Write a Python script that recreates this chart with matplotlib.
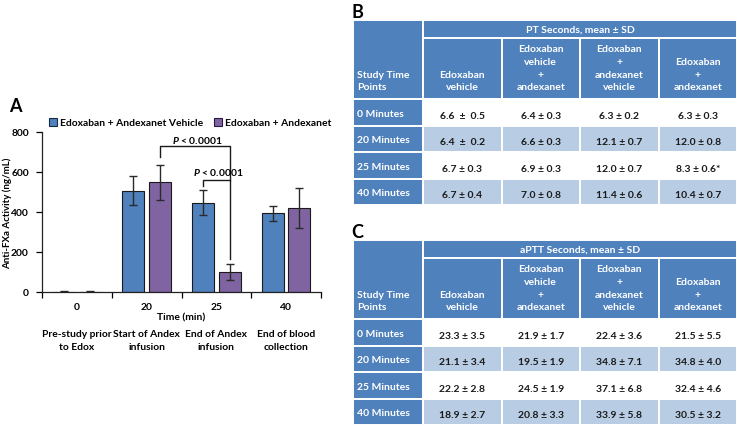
import matplotlib
matplotlib.use("Agg")
import matplotlib.pyplot as plt
from matplotlib.patches import Rectangle
import numpy as np

plt.rcParams['font.family'] = ['Lato', 'DejaVu Sans']
plt.rcParams['font.weight'] = 'bold'
plt.rcParams['mathtext.fontset'] = 'custom'
plt.rcParams['mathtext.it'] = 'Lato:italic:bold'
plt.rcParams['mathtext.rm'] = 'Lato:bold'

# ---------------- data: panel A ----------------
time_min = ["0", "20", "25", "40"]
time_desc = ["Pre-study prior\nto Edox", "Start of Andex\ninfusion",
             "End of Andex\ninfusion", "End of blood\ncollection"]
series_names = ["Edoxaban + Andexanet Vehicle", "Edoxaban + Andexanet"]
vehicle_mean = [2, 507, 447, 393]
vehicle_sd = [1, 73, 64, 39]
andex_mean = [2, 548, 100, 418]
andex_sd = [1, 86, 41, 100]
p_label = r"$P$ < 0.0001"

# ---------------- data: panels B and C ----------------
time_points = ["0 Minutes", "20 Minutes", "25 Minutes", "40 Minutes"]
first_header = "Study Time\nPoints"
group_headers = ["Edoxaban\nvehicle", "Edoxaban\nvehicle\n+\nandexanet",
                 "Edoxaban\n+\nandexanet\nvehicle", "Edoxaban\n+\nandexanet"]
pt_title = "PT Seconds, mean ± SD"
pt_values = [
    ["6.6  ±  0.5", "6.4 ± 0.3", "6.3 ± 0.2", "6.3 ± 0.3"],
    ["6.4  ±  0.2", "6.6 ± 0.3", "12.1 ± 0.7", "12.0 ± 0.8"],
    ["6.7 ± 0.3", "6.9 ± 0.3", "12.0 ± 0.7", "8.3 ± 0.6*"],
    ["6.7 ± 0.4", "7.0 ± 0.8", "11.4 ± 0.6", "10.4 ± 0.7"],
]
aptt_title = "aPTT Seconds, mean ± SD"
aptt_values = [
    ["23.3 ± 3.5", "21.9 ± 1.7", "22.4 ± 3.6", "21.5 ± 5.5"],
    ["21.1 ± 3.4", "19.5 ± 1.9", "34.8 ± 7.1", "34.8 ± 4.0"],
    ["22.2 ± 2.8", "24.5 ± 1.9", "37.1 ± 6.8", "32.4 ± 4.6"],
    ["18.9 ± 2.7", "20.8 ± 3.3", "33.9 ± 5.8", "30.5 ± 3.2"],
]

BLUE = "#4F81BD"
PURPLE = "#8064A2"
LIGHT = "#B8CCE4"
TXT = "#1a1a1a"
FS = 7.4      # panel A text size
TFS = 7.5     # table text size

W, H = 737, 427
fig = plt.figure(figsize=(W / 100, H / 100), dpi=100)


def px_axes(x0, y0, x1, y1):
    return fig.add_axes([x0 / W, 1 - y1 / H, (x1 - x0) / W, (y1 - y0) / H])


# ---------------- Panel A ----------------
ax = px_axes(42, 133, 321, 293)
x = np.arange(len(time_min))
bw, off = 0.315, 0.19
ekw = dict(ecolor="#2a2a2a", elinewidth=1.0, capsize=2.6, capthick=1.0)
ax.bar(x - off, vehicle_mean, bw, yerr=vehicle_sd, color=BLUE,
       edgecolor="#1a1a1a", linewidth=0.8, error_kw=ekw, label=series_names[0])
ax.bar(x + off, andex_mean, bw, yerr=andex_sd, color=PURPLE,
       edgecolor="#1a1a1a", linewidth=0.8, error_kw=ekw, label=series_names[1])
ax.set_xlim(-0.5, len(time_min) - 0.5)
ax.set_ylim(0, 800)
ax.set_yticks([0, 200, 400, 600, 800])
ax.set_xticks(x)
ax.set_xticklabels(time_min)
ax.set_xticks(np.arange(-0.5, len(time_min), 1), minor=True)
ax.tick_params(axis='x', which='major', length=0, pad=7.5, labelsize=FS)
ax.tick_params(axis='x', which='minor', length=4, width=0.9, direction='out')
ax.tick_params(axis='y', length=4, width=0.9, pad=5.5, labelsize=FS)
for s in ['top', 'right']:
    ax.spines[s].set_visible(False)
for s in ['left', 'bottom']:
    ax.spines[s].set_linewidth(0.9)
    ax.spines[s].set_color("#222222")

tr = ax.get_xaxis_transform()
ax.text(1.5, -(318 - 293) / 160, "Time (min)", transform=tr, ha='center',
        va='center', fontsize=FS)
for xi, d in zip(x, time_desc):
    ax.text(xi, -(341 - 293) / 160, d, transform=tr, ha='center', va='center',
            fontsize=FS, linespacing=1.45)
fig.text(7 / W, 1 - 213 / H, "Anti-FXa Activity (ng/mL)", rotation=90,
         ha='center', va='center', fontsize=7.0)

# significance brackets
lc = dict(color="#1a1a1a", lw=1.0)
top1, top2 = 728, 561
ax.plot([1 + off, 1 + off, 2 + off, 2 + off],
        [andex_mean[1] + andex_sd[1] + 43, top1, top1, top2], **lc)
ax.plot([2 - off, 2 - off, 2 + off, 2 + off],
        [vehicle_mean[2] + vehicle_sd[2] + 20, top2, top2,
         andex_mean[2] + andex_sd[2] + 22], **lc)
ax.text(1.5 + off + 0.03, top1 + 33, p_label, ha='center', va='center', fontsize=FS)
ax.text(2 + 0.03, top2 + 40, p_label, ha='center', va='center', fontsize=FS)

# legend
handles = [Rectangle((0, 0), 1, 1, fc=BLUE, ec="#1a2a44", lw=0.8),
           Rectangle((0, 0), 1, 1, fc=PURPLE, ec="#2a1a44", lw=0.8)]
fig.legend(handles, series_names, loc='center left',
           bbox_to_anchor=(49 / W, 1 - 123.5 / H), ncol=2, frameon=False,
           fontsize=FS, handlelength=0.8, handleheight=0.8,
           handletextpad=0.3, columnspacing=1.0, borderpad=0, borderaxespad=0)

fig.text(15 / W, 1 - 107 / H, "A", ha='center', va='center', fontsize=13,
         fontweight='bold')

# ---------------- Tables B & C ----------------
col_edges = [0, 70, 148.5, 227, 305.5, 384]
row_h = [17.5, 61.5, 26.5, 26.5, 26.5, 26.5]


def draw_table(top, title, values, letter):
    row_edges = np.concatenate([[0], np.cumsum(row_h)])
    tab_w, tab_h = col_edges[-1], row_edges[-1]
    tax = px_axes(353, top, 353 + tab_w, top + tab_h)
    tax.set_xlim(0, tab_w)
    tax.set_ylim(tab_h, 0)
    tax.axis('off')
    ec = dict(edgecolor='white', linewidth=1.4)
    # merged first-column header
    tax.add_patch(Rectangle((col_edges[0], row_edges[0]), col_edges[1] - col_edges[0],
                            row_edges[2] - row_edges[0], facecolor=BLUE, **ec))
    tax.text(col_edges[0] + 4, row_edges[2] - 7.5, first_header, ha='left',
             va='bottom', color='white', fontsize=TFS, linespacing=1.55)
    # merged title
    tax.add_patch(Rectangle((col_edges[1], row_edges[0]), col_edges[-1] - col_edges[1],
                            row_edges[1] - row_edges[0], facecolor=BLUE, **ec))
    tax.text((col_edges[1] + col_edges[-1]) / 2, (row_edges[0] + row_edges[1]) / 2,
             title, ha='center', va='center', color='white', fontsize=TFS)
    # group headers
    for j, hname in enumerate(group_headers):
        x0, x1 = col_edges[j + 1], col_edges[j + 2]
        tax.add_patch(Rectangle((x0, row_edges[1]), x1 - x0,
                                row_edges[2] - row_edges[1], facecolor=BLUE, **ec))
        tax.text((x0 + x1) / 2, row_edges[2] - 7.5, hname, ha='center', va='bottom',
                 color='white', fontsize=TFS, linespacing=1.55)
    # data rows
    for i, (tp, row) in enumerate(zip(time_points, values)):
        y0, y1 = row_edges[i + 2], row_edges[i + 3]
        tax.add_patch(Rectangle((col_edges[0], y0), col_edges[1] - col_edges[0],
                                y1 - y0, facecolor=BLUE, **ec))
        tax.text(col_edges[0] + 4, (y0 + y1) / 2 + 1, tp, ha='left', va='center',
                 color='white', fontsize=TFS)
        fc = 'white' if i % 2 == 0 else LIGHT
        for j, v in enumerate(row):
            x0, x1 = col_edges[j + 1], col_edges[j + 2]
            tax.add_patch(Rectangle((x0, y0), x1 - x0, y1 - y0, facecolor=fc, **ec))
            tax.text((x0 + x1) / 2, (y0 + y1) / 2 + 3, v, ha='center', va='center',
                     color=TXT, fontsize=TFS)
    fig.text(357 / W, 1 - (top - 8) / H, letter, ha='center', va='center',
             fontsize=13, fontweight='bold')


draw_table(21, pt_title, pt_values, "B")
draw_table(241, aptt_title, aptt_values, "C")

fig.savefig("out.png", dpi=100)
